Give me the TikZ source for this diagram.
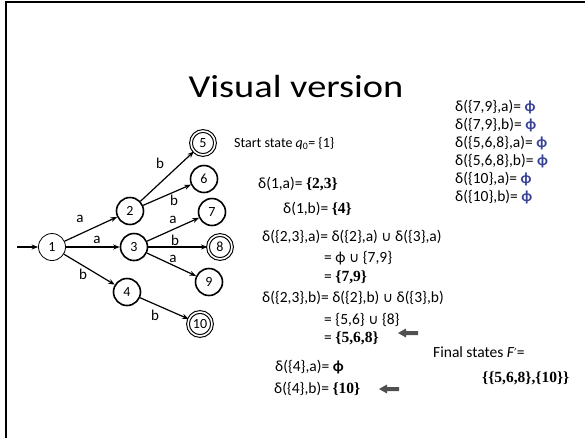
\documentclass[tikz,border=0pt]{standalone}
\usepackage{fontspec}
\setmainfont{Carlito}
\newfontfamily\serifbold{Liberation Serif}
\newfontfamily\symfont{DejaVu Sans}
\newfontfamily\titlefont{Carlito}[FakeStretch=1.2]
\usetikzlibrary{arrows.meta}
\definecolor{phiblue}{RGB}{55,65,150}
\definecolor{arrowgray}{RGB}{80,80,80}
\newcommand{\bset}[1]{{\serifbold\bfseries\fontsize{15.5}{18}\selectfont #1}}
\newcommand{\bphi}{{\bfseries ϕ}}
\newcommand{\cupsym}{{\symfont\fontsize{14}{16}\selectfont ∪}}
\begin{document}
\begin{tikzpicture}[x=1pt,y=-1pt,
  state/.style={circle, draw, line width=1.6, minimum size=27, inner sep=0, font=\fontsize{14}{14}\selectfont},
  startstate/.style={state, line width=0.8},
  accept/.style={state, line width=1.1, double, double distance=1.6, minimum size=24},
  edge/.style={line width=1.2, -{Stealth[length=6.5pt,width=5pt]}},
  lbl/.style={font=\fontsize{15}{15}\selectfont, inner sep=0},
  txt/.style={anchor=base west, inner sep=0, font=\fontsize{15.5}{17}\selectfont},
  blockarrow/.pic={\fill[arrowgray] (0,0) -- (8,-4.5) -- (8,-2) -- (20,-2) -- (20,2) -- (8,2) -- (8,4.5) -- cycle;}
]
\useasboundingbox (0,0) rectangle (585,437);
% slide frame
\draw[line width=2] (6,440) -- (6,2) -- (590,2);

% title
\node[anchor=base, inner sep=0, font=\titlefont\fontsize{32}{32}\selectfont] (title) at (296,97) {Visual version};

% states
\node[startstate] (n1) at (52,247) {1};
\node[state] (n2) at (130,211) {2};
\node[state] (n3) at (134,247) {3};
\node[state] (n4) at (127,292) {4};
\node[accept] (n5) at (203,143) {5};
\node[state] (n6) at (204,179) {6};
\node[state] (n7) at (212,212) {7};
\node[accept] (n8) at (220,247) {8};
\node[state] (n9) at (209,282) {9};
\node[accept] (n10) at (200,324) {10};
\coordinate (s0) at (17,247);

% transitions
\draw[edge] (s0) -- (n1);
\draw[edge] (n1) -- (n2);
\draw[edge] (n1) -- (n3);
\draw[edge] (n1) -- (n4);
\draw[edge] (n2) -- (n5);
\draw[edge] (n2) -- (n6);
\draw[edge] (n3) -- (n7);
\draw[edge] (n3) -- (n8);
\draw[edge] (n3) -- (n9);
\draw[edge] (n4) -- (n10);

% transition labels
\node[lbl] (l12) at (80,219) {a};
\node[lbl] (l13) at (97,240) {a};
\node[lbl] (l14) at (83,274) {b};
\node[lbl] (l25) at (160,163) {b};
\node[lbl] (l26) at (174,200) {b};
\node[lbl] (l37) at (173,220) {a};
\node[lbl] (l38) at (175,240) {b};
\node[lbl] (l39) at (173,259) {a};
\node[lbl] (l410) at (155,315) {b};

% subset construction
\node[txt, font=\fontsize{14}{16}\selectfont] (t0) at (234,147) {Start state {\itshape q}\textsubscript{0}= \{1\}};
\node[txt] (t1) at (258,188) {δ(1,a)= \bset{\{2,3\}}};
\node[txt] (t2) at (283,213) {δ(1,b)= \bset{\{4\}}};
\node[txt] (t3) at (262,241) {δ(\{2,3\},a)= δ(\{2\},a) \cupsym{} δ(\{3\},a)};
\node[txt] (t4) at (324,262) {= ϕ \cupsym{} \{7,9\}};
\node[txt] (t5) at (324,281) {= \bset{\{7,9\}}};
\node[txt] (t6) at (262,302) {δ(\{2,3\},b)= δ(\{2\},b) \cupsym{} δ(\{3\},b)};
\node[txt] (t7) at (324,324) {= \{5,6\} \cupsym{} \{8\}};
\node[txt] (t8) at (324,342) {= \bset{\{5,6,8\}}};
\node[txt] (t9) at (275,371) {δ(\{4\},a)= \bphi};
\node[txt] (t10) at (274,393) {δ(\{4\},b)= \bset{\{10\}}};
\pic (a1) at (398,333) {blockarrow};
\pic (a2) at (379,389) {blockarrow};

% empty transitions
\node[txt] (u1) at (455,111) {δ(\{7,9\},a)= \textcolor{phiblue}{\bphi}};
\node[txt] (u2) at (455,129) {δ(\{7,9\},b)= \textcolor{phiblue}{\bphi}};
\node[txt] (u3) at (455,147) {δ(\{5,6,8\},a)= \textcolor{phiblue}{\bphi}};
\node[txt] (u4) at (455,165) {δ(\{5,6,8\},b)= \textcolor{phiblue}{\bphi}};
\node[txt] (u5) at (455,183) {δ(\{10\},a)= \textcolor{phiblue}{\bphi}};
\node[txt] (u6) at (455,201) {δ(\{10\},b)= \textcolor{phiblue}{\bphi}};

% final states
\node[txt] (f1) at (433,357) {Final states {\itshape F}{\symfont\fontsize{12}{14}\selectfont ′}=};
\node[txt] (f2) at (482,382) {\bset{\{\{5,6,8\},\{10\}\}}};
\end{tikzpicture}
\end{document}
